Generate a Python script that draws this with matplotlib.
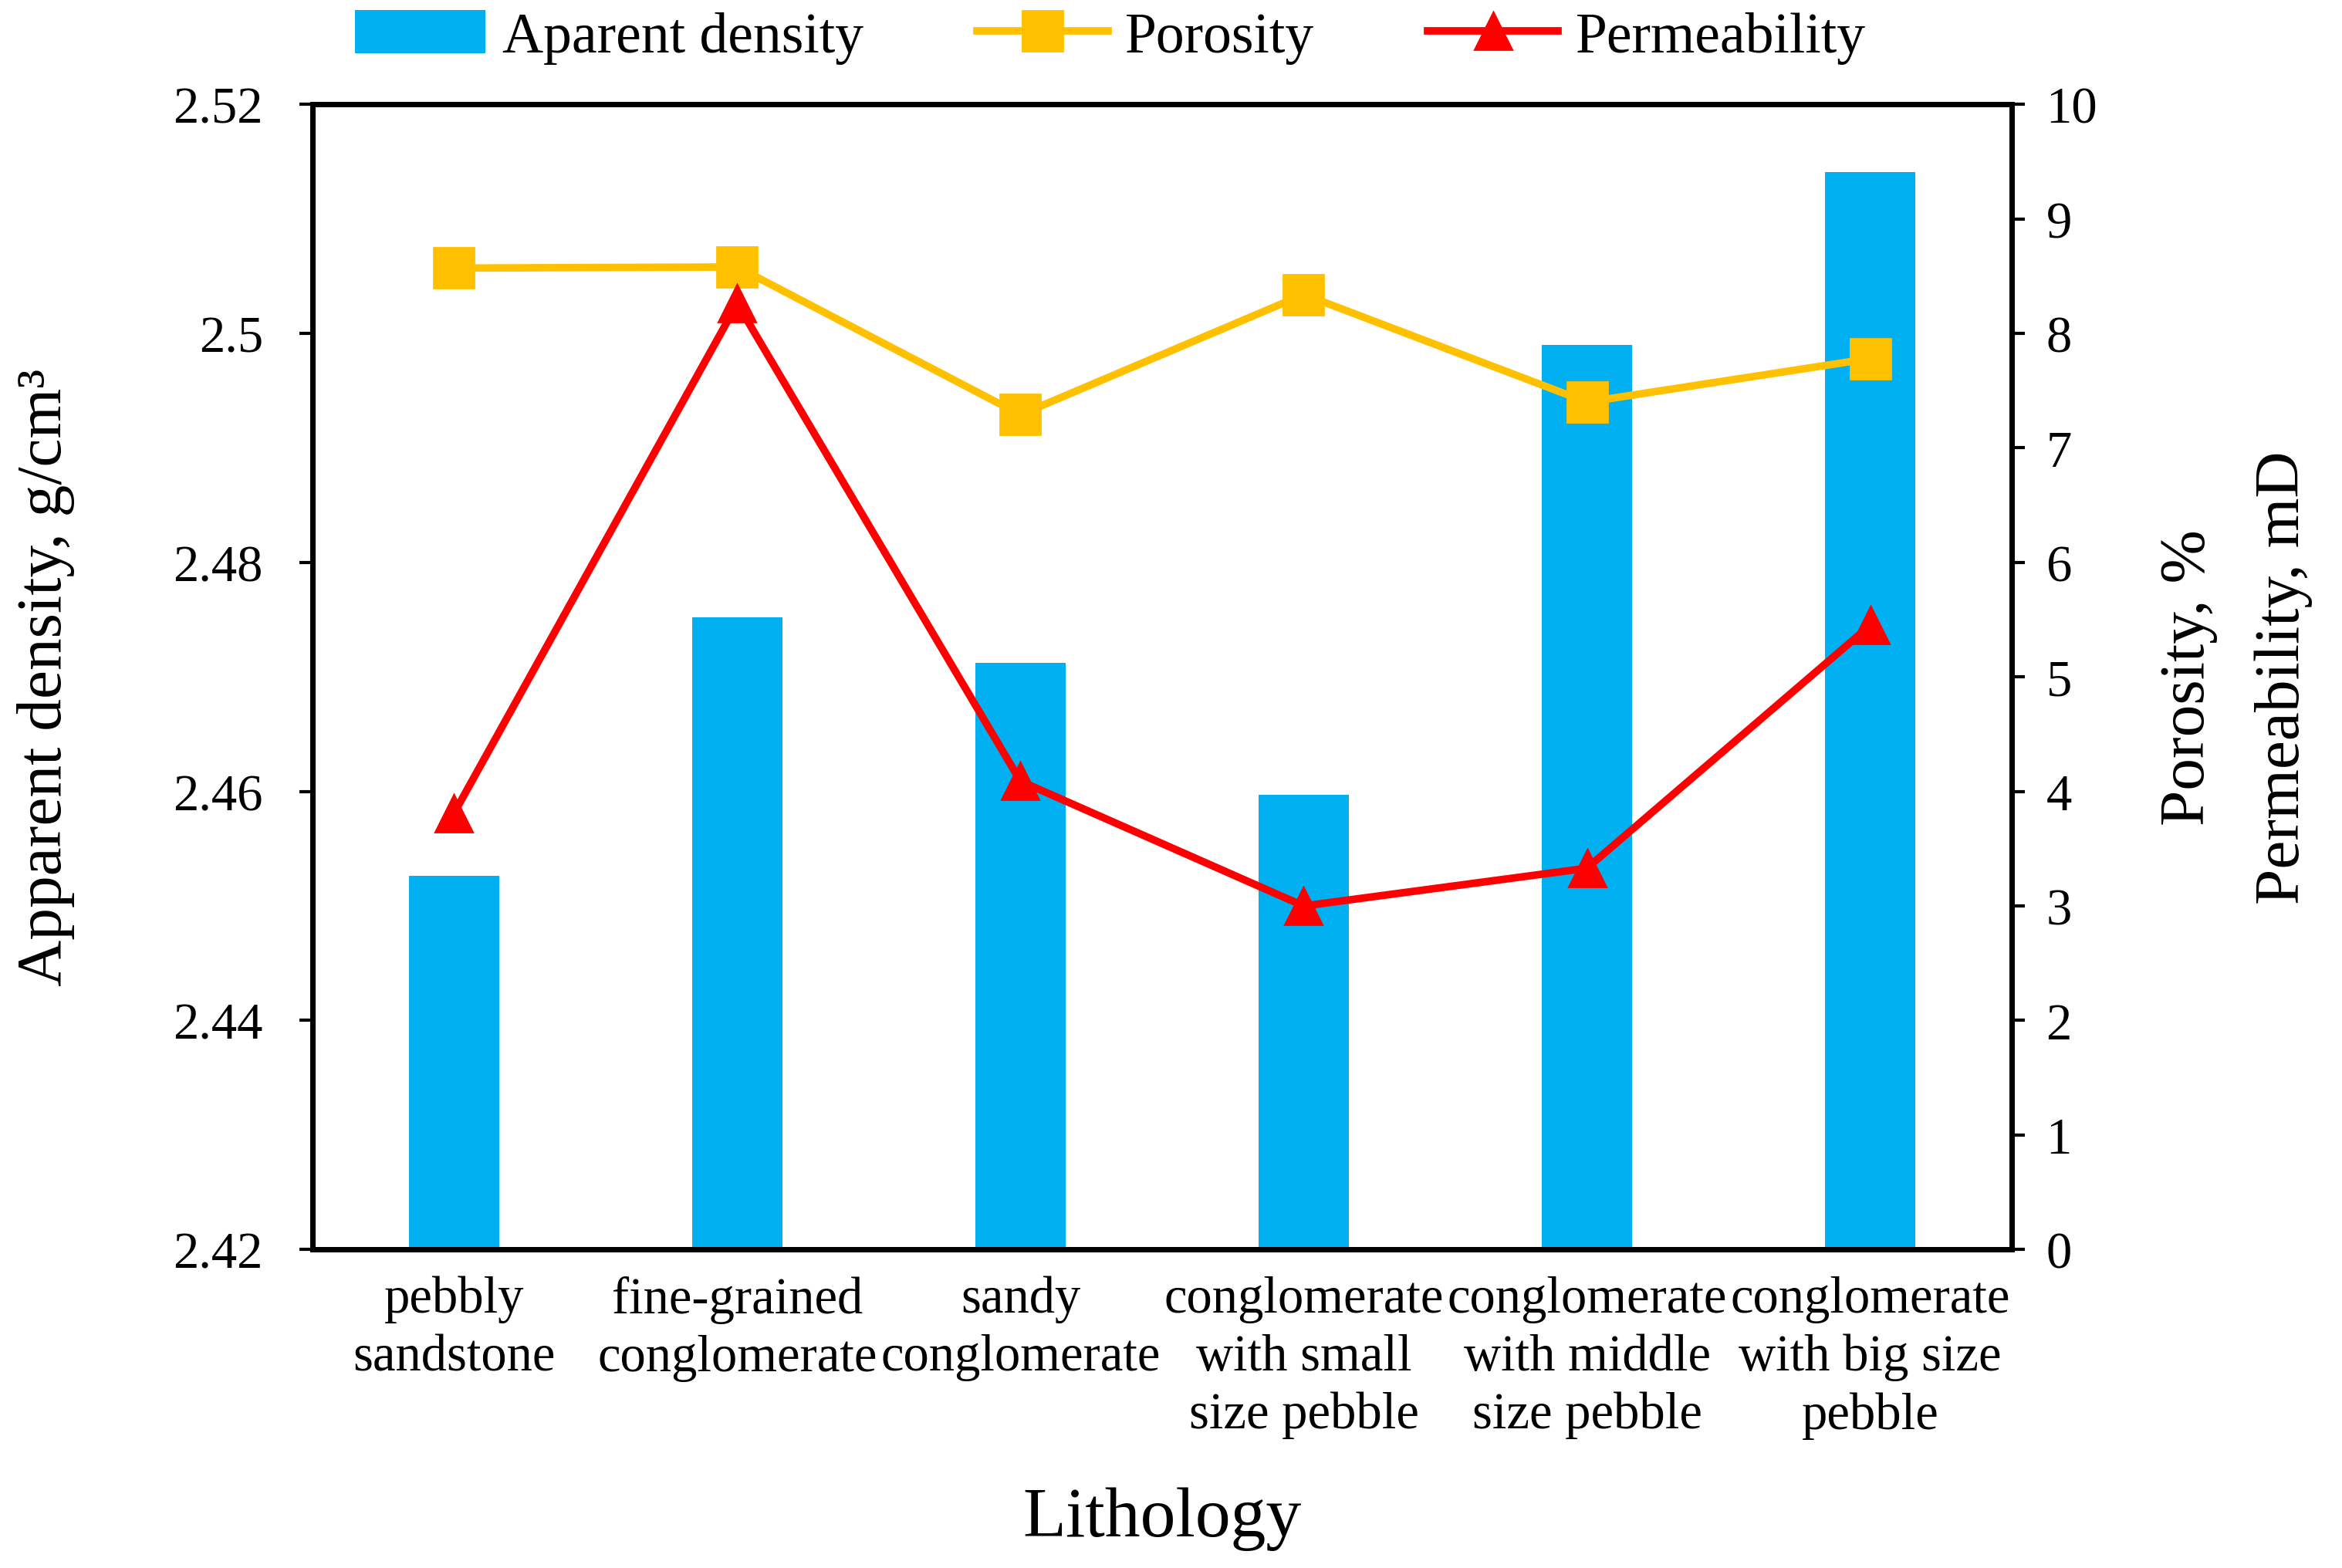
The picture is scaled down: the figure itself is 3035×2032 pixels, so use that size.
import numpy as np
import matplotlib.pyplot as plt
from matplotlib.ticker import FixedLocator

plt.rcParams['font.family'] = ['Liberation Serif', 'DejaVu Serif']

# ---- Data ----
lithology = ['pebbly\nsandstone', 'fine-grained\nconglomerate', 'sandy\nconglomerate',
             'conglomerate\nwith small\nsize pebble', 'conglomerate\nwith middle\nsize pebble',
             'conglomerate\nwith big size\npebble']
density = [2.4526, 2.4752, 2.4712, 2.4597, 2.4990, 2.5141]      # g/cm3
porosity = [8.57, 8.58, 7.29, 8.34, 7.40, 7.78]                  # %
permeability = [3.81, 8.26, 4.09, 3.00, 3.33, 5.45]              # mD

left_ticks = [2.42, 2.44, 2.46, 2.48, 2.50, 2.52]
right_ticks = list(range(0, 11))

# ---- Plot ----
fig = plt.figure(figsize=(15.175, 10.165), dpi=200)
ax = fig.add_axes([0.1334, 0.203, 0.7256, 0.730])
x = np.arange(len(lithology))

bars = ax.bar(x, np.array(density) - 2.42, bottom=2.42, width=0.32,
              color='#00B0F0', label='Aparent density')
ax.set_xlim(-0.5, len(lithology) - 0.5)
ax.set_ylim(2.42, 2.52)
ax.yaxis.set_major_locator(FixedLocator(left_ticks))
ax.set_yticklabels([f'{v:g}' for v in left_ticks])
ax.set_xticks(x)
ax.set_xticklabels(lithology, linespacing=1.3)
ax.tick_params(axis='x', length=0, pad=12, labelsize=24)
ax.tick_params(axis='y', direction='out', length=6, width=1.5, pad=17, labelsize=24)
ax.set_xlabel('Lithology', fontsize=33, labelpad=22)
ax.set_ylabel('Apparent density, g/cm³', fontsize=30)
ax.yaxis.set_label_coords(-0.14, 0.5)

ax2 = ax.twinx()
l1, = ax2.plot(x, porosity, color='#FFC000', lw=3.5, marker='s', ms=19, label='Porosity')
l2, = ax2.plot(x, permeability, color='#FF0000', lw=3.5, marker='^', ms=17, label='Permeability')
ax2.set_ylim(0, 10)
ax2.yaxis.set_major_locator(FixedLocator(right_ticks))
ax2.tick_params(axis='y', direction='out', length=6, width=1.5, pad=10, labelsize=24)
ax2.set_ylabel('Porosity, %', fontsize=30)
ax2.yaxis.set_label_coords(1.087, 0.5)
ax2.text(1.16, 0.5, 'Permeability, mD', transform=ax2.transAxes, rotation=90,
         fontsize=30, ha='center', va='center')

for a in (ax, ax2):
    for s in a.spines.values():
        s.set_linewidth(2.5)

fig.legend(handles=[bars, l1, l2], loc='center', bbox_to_anchor=(0.474, 0.976),
           ncol=3, frameon=False, fontsize=26.5, handlelength=2.3, handleheight=0.8,
           handletextpad=0.3, columnspacing=2.0)

fig.savefig('out.png', dpi=200)
